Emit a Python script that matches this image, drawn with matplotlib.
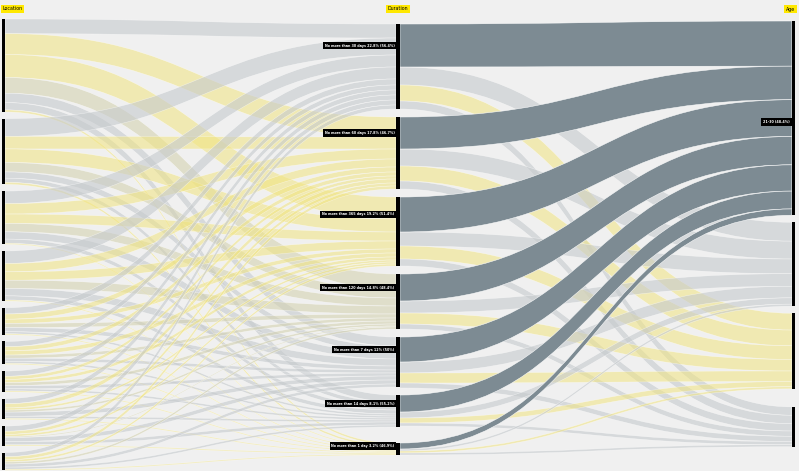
import matplotlib
matplotlib.use("Agg")
import matplotlib.pyplot as plt
from matplotlib.path import Path
from matplotlib.patches import PathPatch, Rectangle
import numpy as np

# ---------------- data ----------------
locations = ["Location 1", "Location 2", "Location 3", "Location 4", "Location 5",
             "Location 6", "Location 7", "Location 8", "Location 9", "Location 10"]
durations = ["No more than 30 days", "No more than 60 days", "No more than 365 days",
             "No more than 120 days", "No more than 7 days", "No more than 14 days",
             "No more than 1 day"]
duration_labels = ["No more than 30 days 22.8% (56.4%)",
                   "No more than 60 days 17.8% (46.7%)",
                   "No more than 365 days 19.2% (51.4%)",
                   "No more than 120 days 14.8% (48.4%)",
                   "No more than 7 days 12% (50%)",
                   "No more than 14 days 8.1% (55.2%)",
                   "No more than 1 day 3.2% (46.9%)"]
ages = ["21-30", "31-40", "41-50", "51+"]
age_labels = ["21-30 (48.4%)", "", "", ""]

# location x duration counts
loc_dur = np.array([
    [14, 20, 22, 15, 9, 7, 2],
    [17, 12, 13, 9, 6, 4, 2],
    [12, 10, 9, 8, 7, 4, 1],
    [12, 8, 8, 8, 7, 4, 1],
    [6, 5, 4, 4, 4, 2, 1],
    [5, 4, 4, 3, 3, 2, 1],
    [5, 3, 3, 3, 3, 2, 1],
    [5, 4, 2, 2, 4, 2, 1],
    [5, 3, 2, 1, 4, 3, 1],
    [4, 3, 2, 2, 3, 2, 1],
])
# duration x age counts
dur_age = np.array([
    [43, 18, 16, 8],
    [32, 17, 15, 8],
    [35, 14, 13, 7],
    [27, 12, 11, 5],
    [25, 11, 10, 5],
    [17, 6, 5, 3],
    [6, 2, 2, 2],
])

# ---------------- style / layout ----------------
W, H = 799, 471
BG = "#f0f0f0"
GRAY = ("#c6cacd", 0.6)
YEL = ("#f1e480", 0.55)
BEIGE = ("#d4d2b2", 0.6)
DARK = ("#7d8b93", 1.0)
dur_colors = [GRAY, YEL, YEL, BEIGE, GRAY, GRAY, YEL]
age_colors = [DARK, GRAY, YEL, GRAY]

x_axes = [3.5, 398, 793.5]
bar_w = [3.2, 4, 3.2]
layout = {
    "left": dict(top=19, scale=1.045, gaps=[6.6] * 9),
    "mid": dict(top=24, scale=1.0, gaps=[8, 8, 8, 8, 8, 16]),
    "right": dict(top=21, scale=1.05, gaps=[7, 7, 18]),
}


def node_pos(sizes, top, scale, gaps):
    pos = []
    y = top
    for i, s in enumerate(sizes):
        pos.append((y, y + s * scale))
        y += s * scale
        if i < len(gaps):
            y += gaps[i]
    return pos


loc_sizes = loc_dur.sum(axis=1)
dur_sizes = loc_dur.sum(axis=0)
age_sizes = dur_age.sum(axis=0)
Lpos = node_pos(loc_sizes, **layout["left"])
Mpos = node_pos(dur_sizes, **layout["mid"])
Rpos = node_pos(age_sizes, **layout["right"])

fig = plt.figure(figsize=(W / 100, H / 100), dpi=100)
fig.patch.set_facecolor(BG)
ax = fig.add_axes([0, 0, 1, 1])
ax.set_xlim(0, W)
ax.set_ylim(H, 0)
ax.axis("off")
ax.set_facecolor(BG)


def ribbon(x0, y0t, y0b, x1, y1t, y1b, color, z):
    xm = (x0 + x1) / 2
    verts = [(x0, y0t), (xm, y0t), (xm, y1t), (x1, y1t),
             (x1, y1b), (xm, y1b), (xm, y0b), (x0, y0b), (x0, y0t)]
    codes = [Path.MOVETO, Path.CURVE4, Path.CURVE4, Path.CURVE4,
             Path.LINETO, Path.CURVE4, Path.CURVE4, Path.CURVE4, Path.CLOSEPOLY]
    p = PathPatch(Path(verts, codes), facecolor=color[0], alpha=color[1],
                  edgecolor="white", lw=0.35, zorder=z)
    ax.add_patch(p)


# left -> middle ribbons
sL = layout["left"]["scale"]
sM = layout["mid"]["scale"]
sR = layout["right"]["scale"]
loc_off = [p[0] for p in Lpos]
dur_in_off = [p[0] for p in Mpos]
xl0 = x_axes[0] + bar_w[0] / 2
xm0 = x_axes[1] - bar_w[1] / 2
xm1 = x_axes[1] + bar_w[1] / 2
xr0 = x_axes[2] - bar_w[2] / 2
for i in range(len(locations)):
    for j in range(len(durations)):
        v = loc_dur[i, j]
        if v == 0:
            continue
        y0 = loc_off[i]
        y1 = dur_in_off[j]
        ribbon(xl0, y0, y0 + v * sL, xm0, y1, y1 + v * sM, dur_colors[j], 1)
        loc_off[i] += v * sL
        dur_in_off[j] += v * sM

# middle -> right ribbons
dur_out_off = [p[0] for p in Mpos]
age_off = [p[0] for p in Rpos]
dark_centres = []
for j in range(len(durations)):
    for k in range(len(ages)):
        v = dur_age[j, k]
        y0 = dur_out_off[j]
        y1 = age_off[k]
        z = 3 if k == 0 else 2
        ribbon(xm1, y0, y0 + v * sM, xr0, y1, y1 + v * sR, age_colors[k], z)
        if k == 0:
            dark_centres.append(y0 + v * sM / 2)
        dur_out_off[j] += v * sM
        age_off[k] += v * sR

# bars
for xi, poss, bw in zip(x_axes, [Lpos, Mpos, Rpos], bar_w):
    for (a, b) in poss:
        ax.add_patch(Rectangle((xi - bw / 2, a), bw, b - a, facecolor="black",
                               edgecolor="none", zorder=5))

# titles
tb = dict(boxstyle="square,pad=0.35", facecolor="#ffe800", edgecolor="none")
ax.text(2.5, 9, "Location", fontsize=3.4, ha="left", va="center", bbox=tb, zorder=6)
ax.text(398, 9, "Duration", fontsize=3.4, ha="center", va="center", bbox=tb, zorder=6)
ax.text(795, 9, "Age", fontsize=3.4, ha="right", va="center", bbox=tb, zorder=6)

# labels
lb = dict(boxstyle="square,pad=0.55", facecolor="black", edgecolor="none")
for lab, yc in zip(duration_labels, dark_centres):
    ax.text(394.5, yc, lab, fontsize=2.4, color="white", fontweight="bold",
            ha="right", va="center", bbox=lb, zorder=7)
for lab, (a, b) in zip(age_labels, Rpos):
    if lab:
        ax.text(790, (a + b) / 2 + 4, lab, fontsize=2.4, color="white",
                fontweight="bold", ha="right", va="center", bbox=lb, zorder=7)

fig.savefig("out.png", dpi=100, facecolor=BG)
